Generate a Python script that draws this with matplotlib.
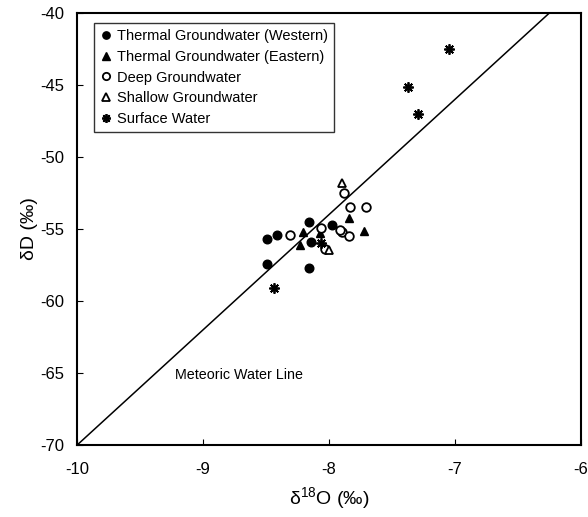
import matplotlib
matplotlib.use("Agg")
import matplotlib.pyplot as plt
import numpy as np

plt.rcParams['font.family'] = ['Liberation Sans', 'DejaVu Sans']
plt.rcParams['mathtext.default'] = 'regular'

# Data
west_x = [-8.49, -8.41, -8.16, -8.14, -7.98, -8.49, -8.16]
west_y = [-55.72, -55.44, -54.53, -55.88, -54.74, -57.43, -57.69]

east_x = [-8.21, -8.07, -8.23, -7.84, -7.72]
east_y = [-55.21, -55.30, -56.13, -54.22, -55.12]

deep_x = [-7.88, -7.83, -7.71, -8.31, -8.06, -7.90, -7.91, -7.84, -8.03]
deep_y = [-52.48, -53.47, -53.47, -55.42, -54.91, -55.23, -55.07, -55.49, -56.39]

shallow_x = [-7.90, -8.00]
shallow_y = [-51.83, -56.46]

surface_x = [-8.06, -8.44, -7.05, -7.37, -7.29]
surface_y = [-55.99, -59.12, -42.50, -45.14, -47.03]

mwl_x = [-10.0, -6.0]
mwl_slope, mwl_intercept = 8.0, 10.0

xticks = [-10, -9, -8, -7, -6]
yticks = [-70, -65, -60, -55, -50, -45, -40]

fig = plt.figure(figsize=(5.88, 5.17), dpi=100)
ax = fig.add_axes([0.131, 0.139, 0.857, 0.836])

lx = np.array(mwl_x)
ax.plot(lx, mwl_slope * lx + mwl_intercept, color='black', lw=1.1, zorder=1)

ms = 6.2
ax.plot(west_x, west_y, 'o', color='black', ms=ms, ls='none', label='Thermal Groundwater (Western)')
ax.plot(east_x, east_y, '^', color='black', ms=ms, ls='none', label='Thermal Groundwater (Eastern)')
ax.plot(deep_x, deep_y, 'o', mfc='white', mec='black', mew=1.3, ms=ms, ls='none', label='Deep Groundwater')
ax.plot(shallow_x, shallow_y, '^', mfc='white', mec='black', mew=1.3, ms=ms, ls='none', label='Shallow Groundwater')
ax.plot(surface_x, surface_y, marker=(8, 2, 0), color='black', mew=1.3, ms=7.5, ls='none', label='Surface Water')

ax.text(-9.22, -65.1, 'Meteoric Water Line', fontsize=10.3, va='center', ha='left')

ax.set_xlim(-10, -6)
ax.set_ylim(-70, -40)
ax.set_xticks(xticks)
ax.set_yticks(yticks)
ax.set_xticklabels([str(t) for t in xticks])
ax.set_yticklabels([str(t) for t in yticks])
ax.tick_params(direction='in', length=4, labelsize=12)
ax.tick_params(axis='x', pad=12)
ax.tick_params(axis='y', pad=9)
for s in ax.spines.values():
    s.set_linewidth(1.5)

ax.set_xlabel('δ$^{18}$O (‰)', fontsize=14, labelpad=6)
ax.set_ylabel('δD (‰)', fontsize=14, labelpad=2)

leg = ax.legend(loc='upper left', bbox_to_anchor=(0.034, 0.977), borderaxespad=0,
                fontsize=10.5, handlelength=0.7, handletextpad=0.4, labelspacing=0.45,
                borderpad=0.45, fancybox=False, frameon=True, markerscale=0.85)
leg.get_frame().set_edgecolor('black')
leg.get_frame().set_linewidth(1.0)

fig.savefig('out.png', dpi=100)
